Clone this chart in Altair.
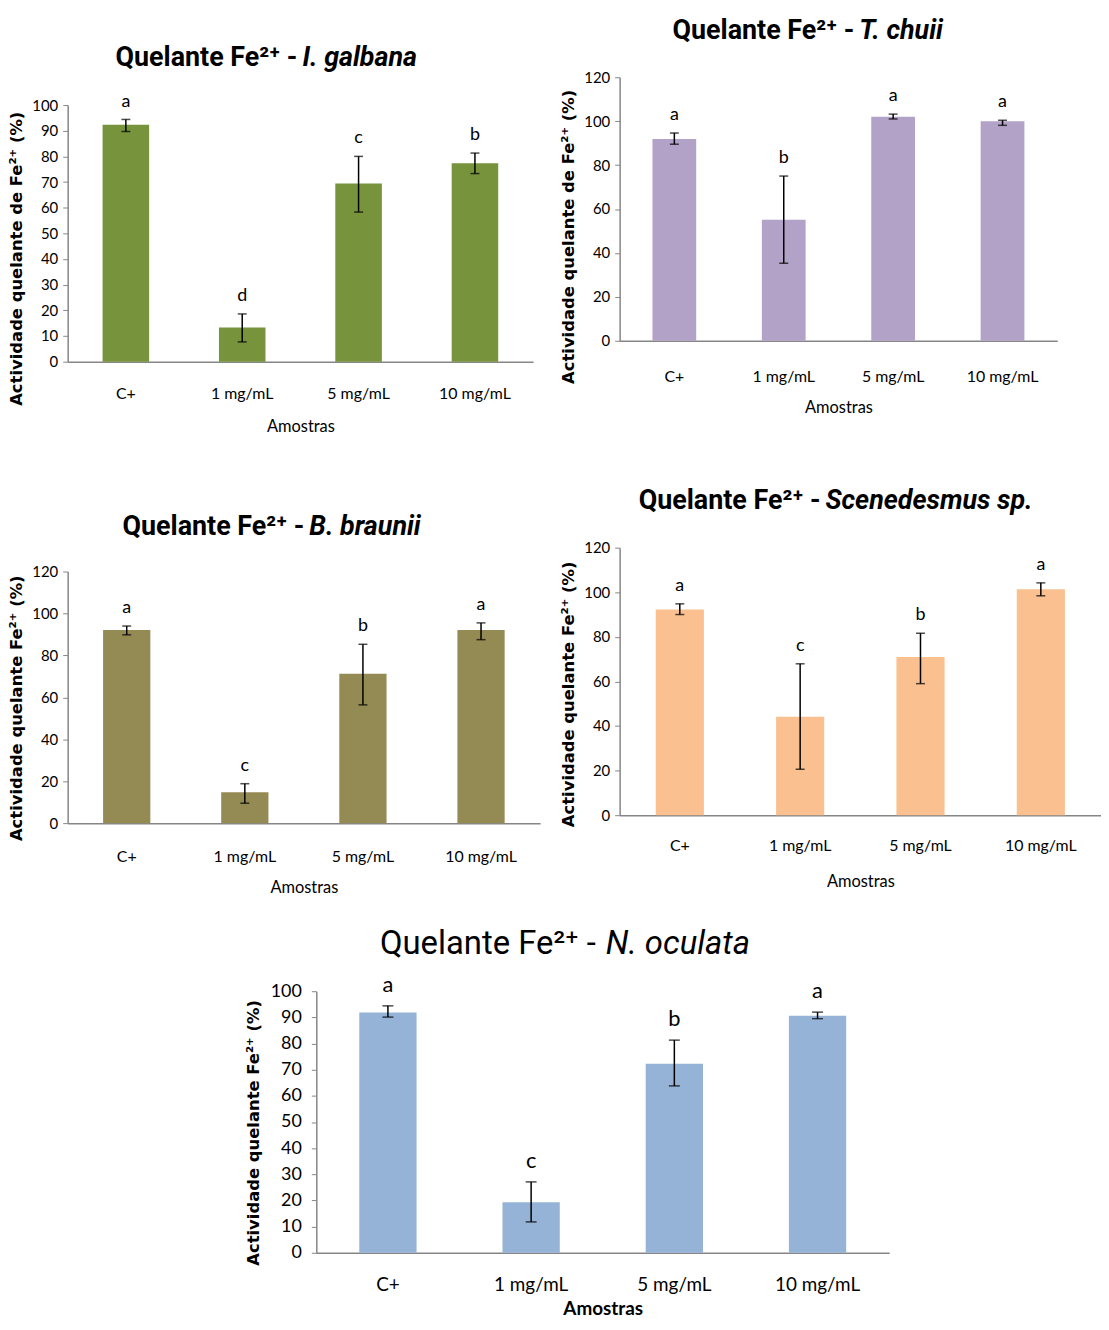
import altair as alt
import pandas as pd

categories = ["C+", "1 mg/mL", "5 mg/mL", "10 mg/mL"]

# I. galbana
galbana_mean = [92.3, 13.3, 69.4, 77.3]
galbana_low = [89.7, 7.7, 58.3, 73.3]
galbana_high = [94.4, 18.6, 80.0, 81.3]
galbana_letters = ["a", "d", "c", "b"]

# T. chuii
chuii_mean = [91.9, 55.1, 102.0, 99.9]
chuii_low = [89.5, 35.3, 101.0, 98.1]
chuii_high = [94.6, 75.0, 103.2, 100.4]
chuii_letters = ["a", "b", "a", "a"]

# B. braunii
braunii_mean = [92.1, 14.7, 71.2, 92.1]
braunii_low = [89.8, 9.5, 56.4, 87.5]
braunii_high = [94.0, 18.8, 85.3, 95.5]
braunii_letters = ["a", "c", "b", "a"]

# Scenedesmus sp.
scen_mean = [92.3, 44.1, 71.0, 101.3]
scen_low = [90.0, 20.6, 59.0, 98.4]
scen_high = [94.8, 67.9, 81.6, 104.2]
scen_letters = ["a", "c", "b", "a"]

# N. oculata
ocul_mean = [91.9, 19.3, 72.3, 90.6]
ocul_low = [90.1, 11.8, 63.8, 89.5]
ocul_high = [94.4, 27.1, 81.3, 92.0]
ocul_letters = ["a", "c", "b", "a"]

TITLE_FONT = "Roboto, sans-serif"
LABEL_FONT = "Lato, sans-serif"
AXIS_GREY = "#868686"
ONE = pd.DataFrame({"k": [0]})


def panel(mean, low, high, letters, species, color, ymax, ystep, ytitle, st):
    df = pd.DataFrame({"cat": categories, "mean": mean, "low": low,
                       "high": high, "letter": letters})
    xaxis = alt.Axis(
        title="Amostras", labelAngle=0, ticks=False, domainColor=AXIS_GREY,
        domainWidth=1.5, labelFont=LABEL_FONT, labelFontSize=st["xl"],
        labelColor="black", labelPadding=st["lp"], labelBaseline="middle",
        titleFont=LABEL_FONT, titleFontSize=st["xt"], titleFontWeight=st["xtw"],
        titleColor="black", titleY=st["ty"], titleBaseline="middle")
    yaxis = alt.Axis(
        title=ytitle, values=list(range(0, ymax + 1, ystep)), grid=False,
        domainColor=AXIS_GREY, domainWidth=1.5, tickColor=AXIS_GREY,
        tickSize=5, labelFont=LABEL_FONT, labelFontSize=st["yl"],
        labelPadding=st["ylp"], labelColor="black",
        titleFont="DejaVu Sans", titleFontSize=16.5, titleFontWeight="bold",
        titleColor="black", titleAngle=270, titleX=st["ytx"], titleY=st["yty"],
        titleBaseline="middle", titleAlign="center")
    xscale = alt.Scale(paddingInner=0.6, paddingOuter=0.3)
    yscale = alt.Scale(domain=[0, ymax], nice=False)

    def X():
        return alt.X("cat:N", sort=categories, scale=xscale, axis=xaxis)

    def Y(f):
        return alt.Y(f, scale=yscale, axis=yaxis)

    base = alt.Chart(df)
    bars = base.mark_bar(color=color).encode(x=X(), y=Y("mean:Q"))
    rule = base.mark_rule(color="black", strokeWidth=st["ew"]).encode(
        x=X(), y=Y("low:Q"), y2="high:Q")
    tlo = base.mark_tick(color="black", thickness=st["ew"], size=st["cap"]).encode(
        x=X(), y=Y("low:Q"))
    thi = base.mark_tick(color="black", thickness=st["ew"], size=st["cap"]).encode(
        x=X(), y=Y("high:Q"))
    lett = base.mark_text(font=LABEL_FONT, fontSize=st["lf"], baseline="alphabetic",
                          dy=st["ldy"], color="black").encode(
        x=X(), y=Y("high:Q"), text="letter:N")
    t1 = alt.Chart(ONE).mark_text(
        text="Quelante Fe\u00b2\u207a -", align="right", baseline="alphabetic",
        font=TITLE_FONT, fontSize=st["tf"], fontWeight=st["tw"], color="black"
    ).encode(x=alt.value(st["tx1"]), y=alt.value(st["tyb"]))
    t2 = alt.Chart(ONE).mark_text(
        text=species, align="left", baseline="alphabetic", font=TITLE_FONT,
        fontSize=st["tf"], fontWeight=st["tw"], fontStyle="italic", color="black"
    ).encode(x=alt.value(st["tx2"]), y=alt.value(st["tyb"]))
    L, T, R, B = st["box"]
    spacer = alt.Chart(ONE).mark_rect(opacity=0).encode(
        x=alt.value(L), x2=alt.value(R), y=alt.value(T), y2=alt.value(B))
    return alt.layer(spacer, bars, rule, tlo, thi, lett, t1, t2).properties(
        width=st["w"], height=st["h"])


def blank(w, h):
    return alt.Chart(ONE).mark_rect(opacity=0).encode(
        x=alt.value(0), x2=alt.value(w), y=alt.value(0), y2=alt.value(h)
    ).properties(width=w, height=h)


common = dict(xl=16, xt=16.5, xtw="normal", yl=15, ylp=5, ew=1.5, cap=9,
              lf=18, ldy=-13, tf=27, tw="bold")

p1 = panel(galbana_mean, galbana_low, galbana_high, galbana_letters,
           "I. galbana", "#77933C", 100, 10,
           "Actividade quelante de Fe\u00b2\u207a (%)",
           dict(common, w=468, h=258, lp=32, ty=65, ytx=-51, yty=154,
                tx1=231, tx2=236, tyb=-39, box=(-59, -93, 495, 372)))
p2 = panel(chuii_mean, chuii_low, chuii_high, chuii_letters,
           "T. chuii", "#B3A2C7", 120, 20,
           "Actividade quelante de Fe\u00b2\u207a (%)",
           dict(common, w=440, h=265, lp=36, ty=67, ytx=-51, yty=160,
                tx1=236, tx2=241, tyb=-38, box=(-60, -65, 440, 400)))
p3 = panel(braunii_mean, braunii_low, braunii_high, braunii_letters,
           "B. braunii", "#948A54", 120, 20,
           "Actividade quelante Fe\u00b2\u207a (%)",
           dict(common, w=475, h=253, lp=34, ty=65, ytx=-51, yty=137,
                tx1=238, tx2=243, tyb=-37, box=(-60, -97, 495, 348)))
p4 = panel(scen_mean, scen_low, scen_high, scen_letters,
           "Scenedesmus sp.", "#FAC090", 120, 20,
           "Actividade quelante Fe\u00b2\u207a (%)",
           dict(common, w=484, h=269, lp=31, ty=67, ytx=-51, yty=147,
                tx1=202, tx2=207, tyb=-39, box=(-60, -73, 484, 372)))
p5 = panel(ocul_mean, ocul_low, ocul_high, ocul_letters,
           "N. oculata", "#95B3D7", 100, 10,
           "Actividade quelante Fe\u00b2\u207a (%)",
           dict(common, w=576, h=263, lp=32, ty=56, ytx=-63, yty=142,
                xl=19, xt=19, xtw="bold", yl=18, ylp=10, lf=22, ldy=-14,
                cap=11, tf=33, tw="normal",
                tx1=281, tx2=291, tyb=-37, box=(-75, -74, 576, 327)))

col1 = alt.vconcat(blank(10, 1), p1, p3, spacing=0)
col2 = alt.vconcat(blank(10, 1), p2, p4, spacing=0)
top = alt.hconcat(col1, col2, spacing=0)
bottom = alt.hconcat(blank(175, 1), p5, spacing=0)

chart = alt.vconcat(top, bottom, spacing=0).properties(
    padding=0).configure_view(strokeWidth=0)

chart.save("out.html", embed_options={"renderer": "svg", "actions": False})
